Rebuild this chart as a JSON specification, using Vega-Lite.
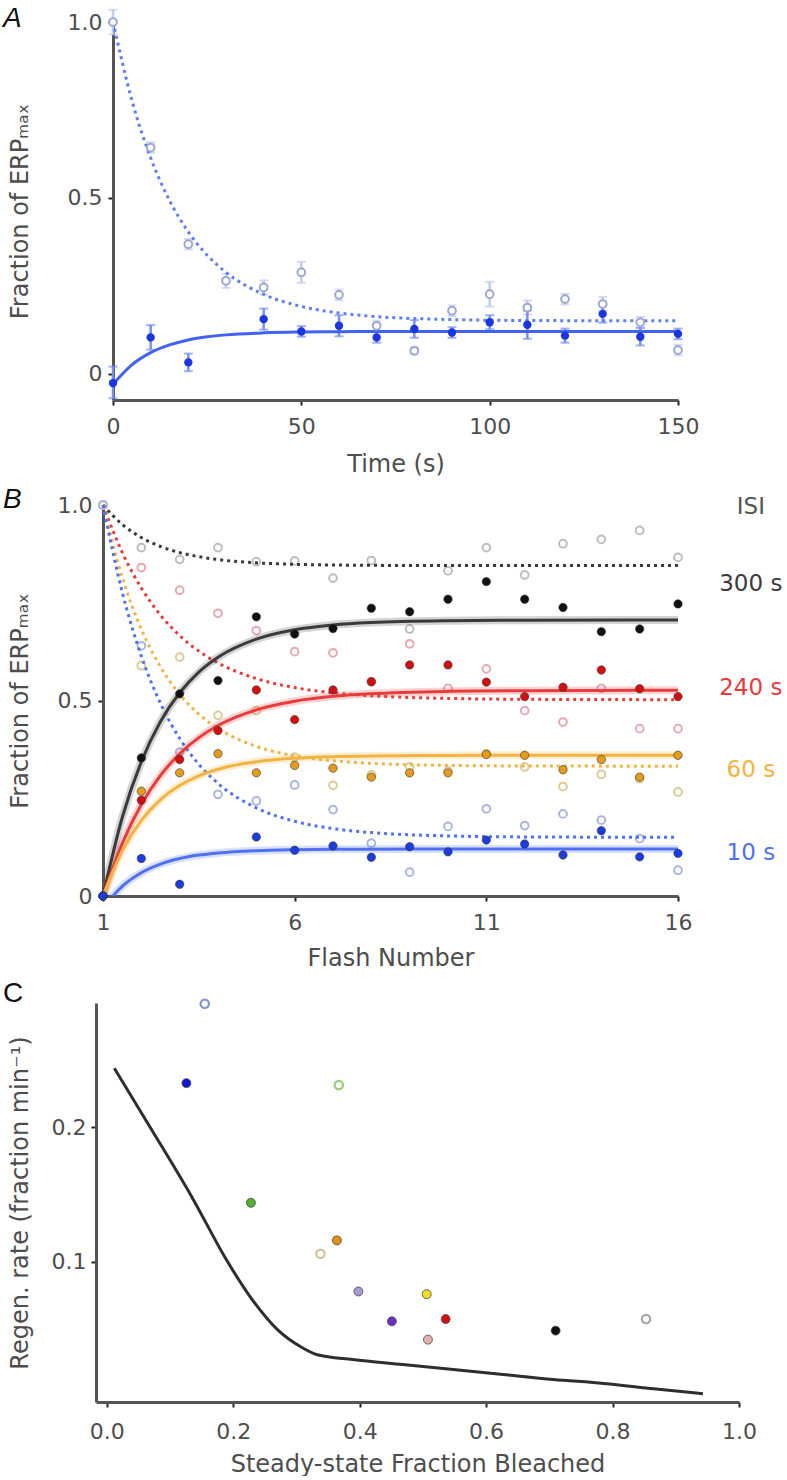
{
  "$schema": "https://vega.github.io/schema/vega-lite/v6.json",
  "background": "white",
  "padding": {"left": 2, "top": 5, "right": 0, "bottom": 0},
  "spacing": 10,
  "resolve": {"scale": {"fill": "independent", "stroke": "independent", "color": "independent"}},
  "config": {
    "view": {"stroke": null},
    "font": "DejaVu Sans",
    "axis": {"grid": false, "domainColor": "#555555", "domainWidth": 3, "tickColor": "#222222", "tickWidth": 2, "tickSize": 5, "labelFont": "DejaVu Sans", "labelFontSize": 22, "labelColor": "#4d4d4d", "titleFont": "DejaVu Sans", "titleFontSize": 24, "titleFontWeight": "normal", "titleColor": "#4d4d4d", "labelPadding": 6, "labelFlush": false, "labelOverlap": false},
    "title": {"anchor": "start", "frame": "bounds", "font": "Liberation Sans", "fontSize": 28, "fontStyle": "italic", "fontWeight": "normal", "color": "#111111", "baseline": "alphabetic"}
  },
  "datasets": {
    "spacer": [{"t": ""}],
    "aFilled": [
      {"x": 0, "y": -0.027, "lo": -0.07, "hi": 0.02},
      {"x": 10, "y": 0.103, "lo": 0.068, "hi": 0.138},
      {"x": 20, "y": 0.032, "lo": 0.007, "hi": 0.057},
      {"x": 40, "y": 0.155, "lo": 0.125, "hi": 0.185},
      {"x": 50, "y": 0.12, "lo": 0.105, "hi": 0.135},
      {"x": 60, "y": 0.136, "lo": 0.106, "hi": 0.166},
      {"x": 70, "y": 0.103, "lo": 0.088, "hi": 0.118},
      {"x": 80, "y": 0.127, "lo": 0.102, "hi": 0.152},
      {"x": 90, "y": 0.117, "lo": 0.102, "hi": 0.132},
      {"x": 100, "y": 0.146, "lo": 0.126, "hi": 0.166},
      {"x": 110, "y": 0.139, "lo": 0.099, "hi": 0.179},
      {"x": 120, "y": 0.108, "lo": 0.088, "hi": 0.128},
      {"x": 130, "y": 0.17, "lo": 0.145, "hi": 0.195},
      {"x": 140, "y": 0.105, "lo": 0.08, "hi": 0.13},
      {"x": 150, "y": 0.113, "lo": 0.098, "hi": 0.128}
    ],
    "aOpen": [
      {"x": 0, "y": 1.0, "lo": 0.965, "hi": 1.035},
      {"x": 10, "y": 0.643, "lo": 0.628, "hi": 0.658},
      {"x": 20, "y": 0.368, "lo": 0.353, "hi": 0.383},
      {"x": 30, "y": 0.264, "lo": 0.244, "hi": 0.284},
      {"x": 40, "y": 0.245, "lo": 0.225, "hi": 0.265},
      {"x": 50, "y": 0.288, "lo": 0.258, "hi": 0.318},
      {"x": 60, "y": 0.224, "lo": 0.209, "hi": 0.239},
      {"x": 70, "y": 0.136, "lo": 0.121, "hi": 0.151},
      {"x": 80, "y": 0.065, "lo": 0.055, "hi": 0.075},
      {"x": 90, "y": 0.179, "lo": 0.164, "hi": 0.194},
      {"x": 100, "y": 0.226, "lo": 0.191, "hi": 0.261},
      {"x": 110, "y": 0.188, "lo": 0.168, "hi": 0.208},
      {"x": 120, "y": 0.212, "lo": 0.197, "hi": 0.227},
      {"x": 130, "y": 0.198, "lo": 0.178, "hi": 0.218},
      {"x": 140, "y": 0.146, "lo": 0.131, "hi": 0.161},
      {"x": 150, "y": 0.067, "lo": 0.052, "hi": 0.082}
    ],
    "aFit": [
      {"x": 0, "y": 1.0, "k": "dotted"}, {"x": 5, "y": 0.7778, "k": "dotted"}, {"x": 10, "y": 0.6137, "k": "dotted"}, {"x": 15, "y": 0.4925, "k": "dotted"}, {"x": 20, "y": 0.403, "k": "dotted"}, {"x": 25, "y": 0.3368, "k": "dotted"}, {"x": 30, "y": 0.288, "k": "dotted"}, {"x": 40, "y": 0.2253, "k": "dotted"}, {"x": 50, "y": 0.1911, "k": "dotted"}, {"x": 60, "y": 0.1724, "k": "dotted"}, {"x": 70, "y": 0.1622, "k": "dotted"}, {"x": 90, "y": 0.1537, "k": "dotted"}, {"x": 110, "y": 0.1511, "k": "dotted"}, {"x": 150, "y": 0.1501, "k": "dotted"},
      {"x": 0, "y": -0.03, "k": "solid"}, {"x": 5, "y": 0.0248, "k": "solid"}, {"x": 10, "y": 0.0596, "k": "solid"}, {"x": 15, "y": 0.0816, "k": "solid"}, {"x": 20, "y": 0.0957, "k": "solid"}, {"x": 25, "y": 0.1046, "k": "solid"}, {"x": 30, "y": 0.1102, "k": "solid"}, {"x": 40, "y": 0.116, "k": "solid"}, {"x": 50, "y": 0.1184, "k": "solid"}, {"x": 60, "y": 0.1194, "k": "solid"}, {"x": 70, "y": 0.1197, "k": "solid"}, {"x": 90, "y": 0.12, "k": "solid"}, {"x": 110, "y": 0.12, "k": "solid"}, {"x": 150, "y": 0.12, "k": "solid"}
    ],
    "bPts": [
      {"x": 1, "y": 0.0, "s": "300", "k": "filled"}, {"x": 2, "y": 0.353, "s": "300", "k": "filled"}, {"x": 3, "y": 0.517, "s": "300", "k": "filled"}, {"x": 4, "y": 0.551, "s": "300", "k": "filled"}, {"x": 5, "y": 0.714, "s": "300", "k": "filled"}, {"x": 6, "y": 0.67, "s": "300", "k": "filled"}, {"x": 7, "y": 0.684, "s": "300", "k": "filled"}, {"x": 8, "y": 0.736, "s": "300", "k": "filled"}, {"x": 9, "y": 0.727, "s": "300", "k": "filled"}, {"x": 10, "y": 0.759, "s": "300", "k": "filled"}, {"x": 11, "y": 0.804, "s": "300", "k": "filled"}, {"x": 12, "y": 0.759, "s": "300", "k": "filled"}, {"x": 13, "y": 0.738, "s": "300", "k": "filled"}, {"x": 14, "y": 0.676, "s": "300", "k": "filled"}, {"x": 15, "y": 0.683, "s": "300", "k": "filled"}, {"x": 16, "y": 0.747, "s": "300", "k": "filled"},
      {"x": 1, "y": 1.0, "s": "300", "k": "open"}, {"x": 2, "y": 0.891, "s": "300", "k": "open"}, {"x": 3, "y": 0.861, "s": "300", "k": "open"}, {"x": 4, "y": 0.891, "s": "300", "k": "open"}, {"x": 5, "y": 0.855, "s": "300", "k": "open"}, {"x": 6, "y": 0.857, "s": "300", "k": "open"}, {"x": 7, "y": 0.813, "s": "300", "k": "open"}, {"x": 8, "y": 0.858, "s": "300", "k": "open"}, {"x": 9, "y": 0.683, "s": "300", "k": "open"}, {"x": 10, "y": 0.832, "s": "300", "k": "open"}, {"x": 11, "y": 0.891, "s": "300", "k": "open"}, {"x": 12, "y": 0.821, "s": "300", "k": "open"}, {"x": 13, "y": 0.901, "s": "300", "k": "open"}, {"x": 14, "y": 0.912, "s": "300", "k": "open"}, {"x": 15, "y": 0.935, "s": "300", "k": "open"}, {"x": 16, "y": 0.866, "s": "300", "k": "open"},
      {"x": 1, "y": 0.0, "s": "240", "k": "filled"}, {"x": 2, "y": 0.245, "s": "240", "k": "filled"}, {"x": 3, "y": 0.349, "s": "240", "k": "filled"}, {"x": 4, "y": 0.423, "s": "240", "k": "filled"}, {"x": 5, "y": 0.527, "s": "240", "k": "filled"}, {"x": 6, "y": 0.451, "s": "240", "k": "filled"}, {"x": 7, "y": 0.527, "s": "240", "k": "filled"}, {"x": 8, "y": 0.548, "s": "240", "k": "filled"}, {"x": 9, "y": 0.591, "s": "240", "k": "filled"}, {"x": 10, "y": 0.591, "s": "240", "k": "filled"}, {"x": 11, "y": 0.547, "s": "240", "k": "filled"}, {"x": 12, "y": 0.51, "s": "240", "k": "filled"}, {"x": 13, "y": 0.534, "s": "240", "k": "filled"}, {"x": 14, "y": 0.578, "s": "240", "k": "filled"}, {"x": 15, "y": 0.53, "s": "240", "k": "filled"}, {"x": 16, "y": 0.51, "s": "240", "k": "filled"},
      {"x": 1, "y": 1.0, "s": "240", "k": "open"}, {"x": 2, "y": 0.84, "s": "240", "k": "open"}, {"x": 3, "y": 0.782, "s": "240", "k": "open"}, {"x": 4, "y": 0.723, "s": "240", "k": "open"}, {"x": 5, "y": 0.679, "s": "240", "k": "open"}, {"x": 6, "y": 0.625, "s": "240", "k": "open"}, {"x": 7, "y": 0.622, "s": "240", "k": "open"}, {"x": 8, "y": 0.548, "s": "240", "k": "open"}, {"x": 9, "y": 0.645, "s": "240", "k": "open"}, {"x": 10, "y": 0.531, "s": "240", "k": "open"}, {"x": 11, "y": 0.581, "s": "240", "k": "open"}, {"x": 12, "y": 0.474, "s": "240", "k": "open"}, {"x": 13, "y": 0.445, "s": "240", "k": "open"}, {"x": 14, "y": 0.531, "s": "240", "k": "open"}, {"x": 15, "y": 0.428, "s": "240", "k": "open"}, {"x": 16, "y": 0.428, "s": "240", "k": "open"},
      {"x": 1, "y": 0.0, "s": "60", "k": "filled"}, {"x": 2, "y": 0.268, "s": "60", "k": "filled"}, {"x": 3, "y": 0.315, "s": "60", "k": "filled"}, {"x": 4, "y": 0.364, "s": "60", "k": "filled"}, {"x": 5, "y": 0.315, "s": "60", "k": "filled"}, {"x": 6, "y": 0.334, "s": "60", "k": "filled"}, {"x": 7, "y": 0.327, "s": "60", "k": "filled"}, {"x": 8, "y": 0.304, "s": "60", "k": "filled"}, {"x": 9, "y": 0.315, "s": "60", "k": "filled"}, {"x": 10, "y": 0.315, "s": "60", "k": "filled"}, {"x": 11, "y": 0.362, "s": "60", "k": "filled"}, {"x": 12, "y": 0.36, "s": "60", "k": "filled"}, {"x": 13, "y": 0.323, "s": "60", "k": "filled"}, {"x": 14, "y": 0.349, "s": "60", "k": "filled"}, {"x": 15, "y": 0.304, "s": "60", "k": "filled"}, {"x": 16, "y": 0.36, "s": "60", "k": "filled"},
      {"x": 1, "y": 1.0, "s": "60", "k": "open"}, {"x": 2, "y": 0.589, "s": "60", "k": "open"}, {"x": 3, "y": 0.611, "s": "60", "k": "open"}, {"x": 4, "y": 0.462, "s": "60", "k": "open"}, {"x": 5, "y": 0.474, "s": "60", "k": "open"}, {"x": 6, "y": 0.355, "s": "60", "k": "open"}, {"x": 7, "y": 0.283, "s": "60", "k": "open"}, {"x": 8, "y": 0.31, "s": "60", "k": "open"}, {"x": 9, "y": 0.33, "s": "60", "k": "open"}, {"x": 10, "y": 0.32, "s": "60", "k": "open"}, {"x": 11, "y": 0.364, "s": "60", "k": "open"}, {"x": 12, "y": 0.33, "s": "60", "k": "open"}, {"x": 13, "y": 0.28, "s": "60", "k": "open"}, {"x": 14, "y": 0.311, "s": "60", "k": "open"}, {"x": 15, "y": 0.3, "s": "60", "k": "open"}, {"x": 16, "y": 0.266, "s": "60", "k": "open"},
      {"x": 1, "y": 0.0, "s": "10", "k": "filled"}, {"x": 2, "y": 0.096, "s": "10", "k": "filled"}, {"x": 3, "y": 0.03, "s": "10", "k": "filled"}, {"x": 5, "y": 0.151, "s": "10", "k": "filled"}, {"x": 6, "y": 0.117, "s": "10", "k": "filled"}, {"x": 7, "y": 0.128, "s": "10", "k": "filled"}, {"x": 8, "y": 0.099, "s": "10", "k": "filled"}, {"x": 9, "y": 0.126, "s": "10", "k": "filled"}, {"x": 10, "y": 0.113, "s": "10", "k": "filled"}, {"x": 11, "y": 0.143, "s": "10", "k": "filled"}, {"x": 12, "y": 0.133, "s": "10", "k": "filled"}, {"x": 13, "y": 0.105, "s": "10", "k": "filled"}, {"x": 14, "y": 0.167, "s": "10", "k": "filled"}, {"x": 15, "y": 0.1, "s": "10", "k": "filled"}, {"x": 16, "y": 0.109, "s": "10", "k": "filled"},
      {"x": 1, "y": 1.0, "s": "10", "k": "open"}, {"x": 2, "y": 0.64, "s": "10", "k": "open"}, {"x": 3, "y": 0.368, "s": "10", "k": "open"}, {"x": 4, "y": 0.26, "s": "10", "k": "open"}, {"x": 5, "y": 0.243, "s": "10", "k": "open"}, {"x": 6, "y": 0.284, "s": "10", "k": "open"}, {"x": 7, "y": 0.221, "s": "10", "k": "open"}, {"x": 8, "y": 0.135, "s": "10", "k": "open"}, {"x": 9, "y": 0.061, "s": "10", "k": "open"}, {"x": 10, "y": 0.178, "s": "10", "k": "open"}, {"x": 11, "y": 0.223, "s": "10", "k": "open"}, {"x": 12, "y": 0.18, "s": "10", "k": "open"}, {"x": 13, "y": 0.21, "s": "10", "k": "open"}, {"x": 14, "y": 0.194, "s": "10", "k": "open"}, {"x": 15, "y": 0.147, "s": "10", "k": "open"}, {"x": 16, "y": 0.066, "s": "10", "k": "open"}
    ],
    "bFit": [
      {"x": 1, "y": 0, "s": "300", "k": "solid"}, {"x": 1.5, "y": 0.2001, "s": "300", "k": "solid"}, {"x": 2, "y": 0.3435, "s": "300", "k": "solid"}, {"x": 2.5, "y": 0.4463, "s": "300", "k": "solid"}, {"x": 3, "y": 0.5199, "s": "300", "k": "solid"}, {"x": 3.5, "y": 0.5726, "s": "300", "k": "solid"}, {"x": 4, "y": 0.6105, "s": "300", "k": "solid"}, {"x": 5, "y": 0.6569, "s": "300", "k": "solid"}, {"x": 6, "y": 0.6808, "s": "300", "k": "solid"}, {"x": 7, "y": 0.6931, "s": "300", "k": "solid"}, {"x": 8, "y": 0.6994, "s": "300", "k": "solid"}, {"x": 10, "y": 0.7042, "s": "300", "k": "solid"}, {"x": 12, "y": 0.7055, "s": "300", "k": "solid"}, {"x": 16, "y": 0.706, "s": "300", "k": "solid"},
      {"x": 1, "y": 1.0, "s": "300", "k": "dotted"}, {"x": 1.5, "y": 0.9505, "s": "300", "k": "dotted"}, {"x": 2, "y": 0.9168, "s": "300", "k": "dotted"}, {"x": 2.5, "y": 0.8939, "s": "300", "k": "dotted"}, {"x": 3, "y": 0.8783, "s": "300", "k": "dotted"}, {"x": 3.5, "y": 0.8677, "s": "300", "k": "dotted"}, {"x": 4, "y": 0.8604, "s": "300", "k": "dotted"}, {"x": 5, "y": 0.8521, "s": "300", "k": "dotted"}, {"x": 6, "y": 0.8483, "s": "300", "k": "dotted"}, {"x": 7, "y": 0.8465, "s": "300", "k": "dotted"}, {"x": 8, "y": 0.8457, "s": "300", "k": "dotted"}, {"x": 10, "y": 0.8452, "s": "300", "k": "dotted"}, {"x": 12, "y": 0.845, "s": "300", "k": "dotted"}, {"x": 16, "y": 0.845, "s": "300", "k": "dotted"},
      {"x": 1, "y": 0, "s": "240", "k": "solid"}, {"x": 1.5, "y": 0.1341, "s": "240", "k": "solid"}, {"x": 2, "y": 0.2339, "s": "240", "k": "solid"}, {"x": 2.5, "y": 0.3083, "s": "240", "k": "solid"}, {"x": 3, "y": 0.3638, "s": "240", "k": "solid"}, {"x": 3.5, "y": 0.4051, "s": "240", "k": "solid"}, {"x": 4, "y": 0.436, "s": "240", "k": "solid"}, {"x": 5, "y": 0.476, "s": "240", "k": "solid"}, {"x": 6, "y": 0.4982, "s": "240", "k": "solid"}, {"x": 7, "y": 0.5106, "s": "240", "k": "solid"}, {"x": 8, "y": 0.5174, "s": "240", "k": "solid"}, {"x": 10, "y": 0.5234, "s": "240", "k": "solid"}, {"x": 12, "y": 0.5252, "s": "240", "k": "solid"}, {"x": 16, "y": 0.526, "s": "240", "k": "solid"},
      {"x": 1, "y": 1.0, "s": "240", "k": "dotted"}, {"x": 1.5, "y": 0.8792, "s": "240", "k": "dotted"}, {"x": 2, "y": 0.7878, "s": "240", "k": "dotted"}, {"x": 2.5, "y": 0.7184, "s": "240", "k": "dotted"}, {"x": 3, "y": 0.6659, "s": "240", "k": "dotted"}, {"x": 3.5, "y": 0.6262, "s": "240", "k": "dotted"}, {"x": 4, "y": 0.5961, "s": "240", "k": "dotted"}, {"x": 5, "y": 0.556, "s": "240", "k": "dotted"}, {"x": 6, "y": 0.533, "s": "240", "k": "dotted"}, {"x": 7, "y": 0.5198, "s": "240", "k": "dotted"}, {"x": 8, "y": 0.5122, "s": "240", "k": "dotted"}, {"x": 10, "y": 0.5053, "s": "240", "k": "dotted"}, {"x": 12, "y": 0.5031, "s": "240", "k": "dotted"}, {"x": 16, "y": 0.5021, "s": "240", "k": "dotted"},
      {"x": 1, "y": 0, "s": "60", "k": "solid"}, {"x": 1.5, "y": 0.1149, "s": "60", "k": "solid"}, {"x": 2, "y": 0.1932, "s": "60", "k": "solid"}, {"x": 2.5, "y": 0.2465, "s": "60", "k": "solid"}, {"x": 3, "y": 0.2827, "s": "60", "k": "solid"}, {"x": 3.5, "y": 0.3074, "s": "60", "k": "solid"}, {"x": 4, "y": 0.3242, "s": "60", "k": "solid"}, {"x": 5, "y": 0.3434, "s": "60", "k": "solid"}, {"x": 6, "y": 0.3523, "s": "60", "k": "solid"}, {"x": 7, "y": 0.3564, "s": "60", "k": "solid"}, {"x": 8, "y": 0.3583, "s": "60", "k": "solid"}, {"x": 10, "y": 0.3596, "s": "60", "k": "solid"}, {"x": 12, "y": 0.3599, "s": "60", "k": "solid"}, {"x": 16, "y": 0.36, "s": "60", "k": "solid"},
      {"x": 1, "y": 1.0, "s": "60", "k": "dotted"}, {"x": 1.5, "y": 0.8158, "s": "60", "k": "dotted"}, {"x": 2, "y": 0.6824, "s": "60", "k": "dotted"}, {"x": 2.5, "y": 0.5858, "s": "60", "k": "dotted"}, {"x": 3, "y": 0.5158, "s": "60", "k": "dotted"}, {"x": 3.5, "y": 0.4651, "s": "60", "k": "dotted"}, {"x": 4, "y": 0.4284, "s": "60", "k": "dotted"}, {"x": 5, "y": 0.3826, "s": "60", "k": "dotted"}, {"x": 6, "y": 0.3585, "s": "60", "k": "dotted"}, {"x": 7, "y": 0.3459, "s": "60", "k": "dotted"}, {"x": 8, "y": 0.3393, "s": "60", "k": "dotted"}, {"x": 10, "y": 0.334, "s": "60", "k": "dotted"}, {"x": 12, "y": 0.3325, "s": "60", "k": "dotted"}, {"x": 16, "y": 0.332, "s": "60", "k": "dotted"},
      {"x": 1, "y": -0.03, "s": "10", "k": "solid"}, {"x": 1.5, "y": 0.0248, "s": "10", "k": "solid"}, {"x": 2, "y": 0.0596, "s": "10", "k": "solid"}, {"x": 2.5, "y": 0.0816, "s": "10", "k": "solid"}, {"x": 3, "y": 0.0957, "s": "10", "k": "solid"}, {"x": 3.5, "y": 0.1046, "s": "10", "k": "solid"}, {"x": 4, "y": 0.1102, "s": "10", "k": "solid"}, {"x": 5, "y": 0.116, "s": "10", "k": "solid"}, {"x": 6, "y": 0.1184, "s": "10", "k": "solid"}, {"x": 7, "y": 0.1194, "s": "10", "k": "solid"}, {"x": 8, "y": 0.1197, "s": "10", "k": "solid"}, {"x": 10, "y": 0.12, "s": "10", "k": "solid"}, {"x": 12, "y": 0.12, "s": "10", "k": "solid"}, {"x": 16, "y": 0.12, "s": "10", "k": "solid"},
      {"x": 1, "y": 1.0, "s": "10", "k": "dotted"}, {"x": 1.5, "y": 0.7778, "s": "10", "k": "dotted"}, {"x": 2, "y": 0.6137, "s": "10", "k": "dotted"}, {"x": 2.5, "y": 0.4925, "s": "10", "k": "dotted"}, {"x": 3, "y": 0.403, "s": "10", "k": "dotted"}, {"x": 3.5, "y": 0.3368, "s": "10", "k": "dotted"}, {"x": 4, "y": 0.288, "s": "10", "k": "dotted"}, {"x": 5, "y": 0.2253, "s": "10", "k": "dotted"}, {"x": 6, "y": 0.1911, "s": "10", "k": "dotted"}, {"x": 7, "y": 0.1724, "s": "10", "k": "dotted"}, {"x": 8, "y": 0.1622, "s": "10", "k": "dotted"}, {"x": 10, "y": 0.1537, "s": "10", "k": "dotted"}, {"x": 12, "y": 0.1511, "s": "10", "k": "dotted"}, {"x": 16, "y": 0.1501, "s": "10", "k": "dotted"}
    ],
    "bLab": [
      {"x": 17.9, "y": 0.995, "s": "ISI", "t": "ISI"},
      {"x": 17.9, "y": 0.798, "s": "300", "t": "300 s"},
      {"x": 17.9, "y": 0.532, "s": "240", "t": "240 s"},
      {"x": 17.9, "y": 0.322, "s": "60", "t": "60 s"},
      {"x": 17.9, "y": 0.11, "s": "10", "t": "10 s"}
    ],
    "cLine": [
      {"x": 0.012, "y": 0.244}, {"x": 0.0715, "y": 0.198}, {"x": 0.135, "y": 0.148}, {"x": 0.19, "y": 0.101}, {"x": 0.23, "y": 0.072}, {"x": 0.27, "y": 0.0496}, {"x": 0.31, "y": 0.036}, {"x": 0.333, "y": 0.031}, {"x": 0.389, "y": 0.0274}, {"x": 0.468, "y": 0.0237}, {"x": 0.548, "y": 0.02}, {"x": 0.627, "y": 0.0163}, {"x": 0.706, "y": 0.0126}, {"x": 0.786, "y": 0.0096}, {"x": 0.865, "y": 0.0057}, {"x": 0.943, "y": 0.002}
    ],
    "cPts": [
      {"x": 0.126, "y": 0.233, "c": "blue", "k": "filled"},
      {"x": 0.228, "y": 0.144, "c": "green", "k": "filled"},
      {"x": 0.364, "y": 0.116, "c": "orange", "k": "filled"},
      {"x": 0.398, "y": 0.078, "c": "lavender", "k": "filled"},
      {"x": 0.451, "y": 0.0558, "c": "purple", "k": "filled"},
      {"x": 0.506, "y": 0.076, "c": "yellow", "k": "filled"},
      {"x": 0.536, "y": 0.0575, "c": "red", "k": "filled"},
      {"x": 0.508, "y": 0.0422, "c": "pink", "k": "filled"},
      {"x": 0.71, "y": 0.0489, "c": "black", "k": "filled"},
      {"x": 0.155, "y": 0.292, "c": "lightblue", "k": "open"},
      {"x": 0.367, "y": 0.2316, "c": "lightgreen", "k": "open"},
      {"x": 0.338, "y": 0.106, "c": "beige", "k": "open"},
      {"x": 0.853, "y": 0.0575, "c": "grey", "k": "open"}
    ]
  },
  "vconcat": [
    {
      "spacing": 0,
      "hconcat": [
        {"width": 1, "height": 1, "data": {"name": "spacer"}, "mark": {"type": "text"}, "encoding": {"text": {"field": "t"}}},
        {
          "width": 565,
          "height": 378,
          "title": {"text": "A", "dx": -5, "offset": -25},
          "encoding": {
            "x": {"field": "x", "type": "quantitative", "scale": {"domain": [0, 150], "nice": false, "zero": false}, "axis": {"title": "Time (s)", "values": [0, 50, 100, 150], "labelPadding": 11, "titlePadding": 15}},
            "y": {"field": "y", "type": "quantitative", "scale": {"domain": [-0.075, 1.0], "nice": false, "zero": false}, "axis": {"title": "Fraction of ERPₘₐₓ", "values": [0, 0.5, 1], "labelExpr": "datum.value == 0 ? '0' : format(datum.value, '.1f')", "labelPadding": 6, "titlePadding": 35}}
          },
          "layer": [
            {
              "data": {"name": "aOpen"},
              "mark": {"type": "errorbar", "color": "#c3cbef", "ticks": {"size": 9, "thickness": 2}, "rule": {"strokeWidth": 2.5}},
              "encoding": {
                "y": {"field": "lo", "type": "quantitative", "scale": {"domain": [-0.075, 1.0], "nice": false, "zero": false}, "axis": {"title": "Fraction of ERPₘₐₓ", "values": [0, 0.5, 1], "labelExpr": "datum.value == 0 ? '0' : format(datum.value, '.1f')", "labelPadding": 6, "titlePadding": 35}},
                "y2": {"field": "hi"}
              }
            },
            {
              "data": {"name": "aFilled"},
              "mark": {"type": "errorbar", "color": "#7690f2", "ticks": {"size": 9, "thickness": 2}, "rule": {"strokeWidth": 2.5}},
              "encoding": {
                "y": {"field": "lo", "type": "quantitative", "scale": {"domain": [-0.075, 1.0], "nice": false, "zero": false}, "axis": {"title": "Fraction of ERPₘₐₓ", "values": [0, 0.5, 1], "labelExpr": "datum.value == 0 ? '0' : format(datum.value, '.1f')", "labelPadding": 6, "titlePadding": 35}},
                "y2": {"field": "hi"}
              }
            },
            {
              "data": {"name": "aFit"},
              "transform": [{"filter": "datum.k == 'dotted'"}],
              "mark": {"type": "line", "color": "#5f7ef2", "strokeWidth": 3, "strokeDash": [3, 4], "interpolate": "monotone"},
              "encoding": {}
            },
            {
              "data": {"name": "aFit"},
              "transform": [{"filter": "datum.k == 'solid'"}],
              "mark": {"type": "line", "color": "#4162f0", "strokeWidth": 3, "interpolate": "monotone"},
              "encoding": {}
            },
            {
              "data": {"name": "aOpen"},
              "mark": {"type": "point", "shape": "circle", "filled": false, "fill": "white", "stroke": "#9ca7d4", "strokeWidth": 2, "size": 60, "opacity": 1},
              "encoding": {}
            },
            {
              "data": {"name": "aFilled"},
              "mark": {"type": "point", "shape": "circle", "filled": true, "color": "#1b36e0", "size": 70, "opacity": 1},
              "encoding": {}
            }
          ]
        }
      ]
    },
    {
      "spacing": 0,
      "hconcat": [
        {"width": 1, "height": 1, "data": {"name": "spacer"}, "mark": {"type": "text"}, "encoding": {"text": {"field": "t"}}},
        {
          "width": 575,
          "height": 391,
          "title": {"text": "B", "dx": -5, "offset": -20},
          "encoding": {
            "x": {"field": "x", "type": "quantitative", "scale": {"domain": [1, 16], "nice": false, "zero": false}, "axis": {"title": "Flash Number", "values": [1, 6, 11, 16], "labelPadding": 11, "titlePadding": 13}},
            "y": {"field": "y", "type": "quantitative", "scale": {"domain": [0, 1], "nice": false, "zero": false}, "axis": {"title": "Fraction of ERPₘₐₓ", "values": [0, 0.5, 1], "labelExpr": "datum.value == 0 ? '0' : format(datum.value, '.1f')", "labelPadding": 6, "titlePadding": 25}}
          },
          "layer": [
            {
              "data": {"name": "bPts"},
              "transform": [{"filter": "datum.k == 'open'"}],
              "mark": {"type": "point", "shape": "circle", "filled": false, "fill": "white", "strokeWidth": 2, "size": 60, "opacity": 1},
              "encoding": {
                "stroke": {"field": "s", "type": "nominal", "scale": {"domain": ["300", "240", "60", "10"], "range": ["#bdbdbd", "#e6a9b0", "#dccb95", "#a9b5e0"]}, "legend": null}
              }
            },
            {
              "data": {"name": "bFit"},
              "transform": [{"filter": "datum.k == 'dotted'"}],
              "mark": {"type": "line", "strokeWidth": 3, "strokeDash": [3, 4], "interpolate": "monotone"},
              "encoding": {
                "color": {"field": "s", "type": "nominal", "scale": {"domain": ["300", "240", "60", "10", "ISI"], "range": ["#3a3a3a", "#e63c3c", "#f2b340", "#4f70f0", "#555555"]}, "legend": null}
              }
            },
            {
              "data": {"name": "bFit"},
              "transform": [{"filter": "datum.k == 'solid'"}],
              "mark": {"type": "line", "strokeWidth": 8, "opacity": 0.22, "interpolate": "monotone", "clip": true},
              "encoding": {
                "color": {"field": "s", "type": "nominal", "scale": {"domain": ["300", "240", "60", "10", "ISI"], "range": ["#3a3a3a", "#e63c3c", "#f2b340", "#4f70f0", "#555555"]}, "legend": null}
              }
            },
            {
              "data": {"name": "bFit"},
              "transform": [{"filter": "datum.k == 'solid'"}],
              "mark": {"type": "line", "strokeWidth": 3, "interpolate": "monotone", "clip": true},
              "encoding": {
                "color": {"field": "s", "type": "nominal", "scale": {"domain": ["300", "240", "60", "10", "ISI"], "range": ["#3a3a3a", "#e63c3c", "#f2b340", "#4f70f0", "#555555"]}, "legend": null}
              }
            },
            {
              "data": {"name": "bPts"},
              "transform": [{"filter": "datum.k == 'filled'"}],
              "mark": {"type": "point", "shape": "circle", "filled": true, "size": 70, "opacity": 1, "stroke": "#333333", "strokeWidth": 0.6},
              "encoding": {
                "fill": {"field": "s", "type": "nominal", "scale": {"domain": ["300", "240", "60", "10"], "range": ["#111111", "#d3100f", "#e59b1c", "#1d3ce0"]}, "legend": null}
              }
            },
            {
              "data": {"name": "bLab"},
              "mark": {"type": "text", "align": "center", "baseline": "middle", "fontSize": 23, "font": "DejaVu Sans"},
              "encoding": {
                "text": {"field": "t"},
                "color": {"field": "s", "type": "nominal", "scale": {"domain": ["300", "240", "60", "10", "ISI"], "range": ["#3a3a3a", "#e63c3c", "#f2b340", "#4f70f0", "#555555"]}, "legend": null}
              }
            }
          ]
        }
      ]
    },
    {
      "spacing": 0,
      "hconcat": [
        {"width": 1, "height": 1, "data": {"name": "spacer"}, "mark": {"type": "text"}, "encoding": {"text": {"field": "t"}}},
        {
          "width": 643,
          "height": 399,
          "title": {"text": "C", "dx": -5, "offset": -13, "fontStyle": "normal"},
          "encoding": {
            "x": {"field": "x", "type": "quantitative", "scale": {"domain": [-0.017, 1.0], "nice": false, "zero": false}, "axis": {"title": "Steady-state Fraction Bleached", "values": [0, 0.2, 0.4, 0.6, 0.8, 1.0], "format": ".1f", "labelPadding": 14, "titlePadding": 10}},
            "y": {"field": "y", "type": "quantitative", "scale": {"domain": [-0.0042, 0.2926], "nice": false, "zero": false}, "axis": {"title": "Regen. rate (fraction min⁻¹)", "values": [0.1, 0.2], "format": ".1f", "labelPadding": 5, "titlePadding": 19}}
          },
          "layer": [
            {
              "data": {"name": "cLine"},
              "mark": {"type": "line", "color": "#2e2e2e", "strokeWidth": 3, "interpolate": "monotone"},
              "encoding": {}
            },
            {
              "data": {"name": "cPts"},
              "transform": [{"filter": "datum.k == 'open'"}],
              "mark": {"type": "point", "shape": "circle", "filled": false, "fill": "white", "strokeWidth": 2.2, "size": 70, "opacity": 1},
              "encoding": {
                "stroke": {"field": "c", "type": "nominal", "scale": {"domain": ["lightblue", "lightgreen", "beige", "grey"], "range": ["#8595c8", "#96cf7c", "#d3c199", "#a6a6a6"]}, "legend": null}
              }
            },
            {
              "data": {"name": "cPts"},
              "transform": [{"filter": "datum.k == 'filled'"}],
              "mark": {"type": "point", "shape": "circle", "filled": true, "size": 80, "opacity": 1, "stroke": "#444444", "strokeWidth": 0.8},
              "encoding": {
                "fill": {"field": "c", "type": "nominal", "scale": {"domain": ["blue", "green", "orange", "lavender", "purple", "yellow", "red", "pink", "black"], "range": ["#1414d2", "#52b231", "#e2920f", "#a898d6", "#6a2fc8", "#f2e01a", "#d11111", "#e4b0b0", "#111111"]}, "legend": null}
              }
            }
          ]
        }
      ]
    }
  ]
}
